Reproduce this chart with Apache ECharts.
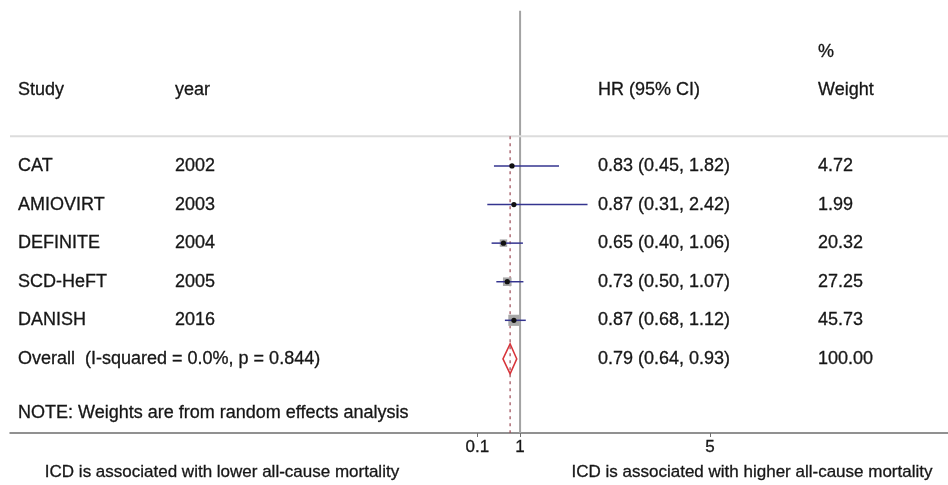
<!DOCTYPE html>
<html><head><meta charset="utf-8">
<script src="https://cdn.jsdelivr.net/npm/echarts@6/dist/echarts.min.js"></script>
<style>html,body{margin:0;padding:0;background:#fff}#c{width:948px;height:485px}</style>
</head><body><div id="c"></div>
<script>
// ---- data ----
const studies = ['CAT', 'AMIOVIRT', 'DEFINITE', 'SCD-HeFT', 'DANISH'];
const years = ['2002', '2003', '2004', '2005', '2016'];
const hr = [0.83, 0.87, 0.65, 0.73, 0.87];
const lower = [0.45, 0.31, 0.40, 0.50, 0.68];
const upper = [1.82, 2.42, 1.06, 1.07, 1.12];
const weights = [4.72, 1.99, 20.32, 27.25, 45.73];
const overallName = 'Overall  (I-squared = 0.0%, p = 0.844)';
const overall = [0.79, 0.64, 0.93];
const overallWeight = 100.00;
const xTicks = [0.1, 1, 5];
const noteText = 'NOTE: Weights are from random effects analysis';
const leftLabel = 'ICD is associated with lower all-cause mortality';
const rightLabel = 'ICD is associated with higher all-cause mortality';

// ---- layout ----
const FONT = '"Liberation Sans", Arial, Helvetica, sans-serif';
const FS = 18;
const FSB = 17;
const TXT = '#161616';
const studyRows = [0, 1, 2, 3, 4];
const overallRow = 5;
const headerRow = -1.97, pctRow = -2.95, noteRow = 6.4, sepRow = -0.77;
const colStudy = 18, colYear = 175, colHR = 598, colW = 818;

const fmt = v => v.toFixed(2);
const cells = [];
cells.push({x: colW, row: pctRow, text: '%'});
cells.push({x: colStudy, row: headerRow, text: 'Study'});
cells.push({x: colYear, row: headerRow, text: 'year'});
cells.push({x: colHR, row: headerRow, text: 'HR (95% CI)'});
cells.push({x: colW, row: headerRow, text: 'Weight'});
studies.forEach((s, i) => {
  cells.push({x: colStudy, row: studyRows[i], text: s});
  cells.push({x: colYear, row: studyRows[i], text: years[i]});
  cells.push({x: colHR, row: studyRows[i], text: fmt(hr[i]) + ' (' + fmt(lower[i]) + ', ' + fmt(upper[i]) + ')'});
  cells.push({x: colW, row: studyRows[i], text: fmt(weights[i])});
});
cells.push({x: colStudy, row: overallRow, text: overallName});
cells.push({x: colHR, row: overallRow, text: fmt(overall[0]) + ' (' + fmt(overall[1]) + ', ' + fmt(overall[2]) + ')'});
cells.push({x: colW, row: overallRow, text: fmt(overallWeight)});
cells.push({x: colStudy, row: noteRow, text: noteText});

const chart = echarts.init(document.getElementById('c'));
chart.setOption({
  animation: false,
  backgroundColor: '#fff',
  grid: {left: 10, right: 0, top: 0, bottom: 52},
  xAxis: {
    type: 'value', min: -9.74, max: 10.01,
    splitLine: {show: false},
    axisLine: {show: true, onZero: false, lineStyle: {color: '#6e6e6e', width: 1.5}},
    axisTick: {show: true, customValues: xTicks, length: 4, lineStyle: {color: '#6e6e6e'}},
    axisLabel: {customValues: xTicks, formatter: v => String(v), color: TXT, fontSize: FSB, fontFamily: FONT, margin: 6,
      textBorderColor: TXT, textBorderWidth: 0.3}
  },
  yAxis: {type: 'value', inverse: true, min: -4.3, max: 6.92, show: false},
  graphic: [
    {type: 'text', x: 222, y: 472, style: {text: leftLabel, fill: TXT, stroke: TXT, lineWidth: 0.3, font: FSB + 'px ' + FONT, textAlign: 'center', textVerticalAlign: 'middle'}},
    {type: 'text', x: 752, y: 472, style: {text: rightLabel, fill: TXT, stroke: TXT, lineWidth: 0.3, font: FSB + 'px ' + FONT, textAlign: 'center', textVerticalAlign: 'middle'}}
  ],
  series: [
    { // reference lines: null line, separator
      type: 'custom', z: 1, silent: true,
      data: [[1, -4.02, 6.92], [0, sepRow, sepRow]],
      encode: {x: 0, y: [1, 2]},
      renderItem(params, api) {
        const cs = params.coordSys;
        if (params.dataIndex === 1) {
          const y = api.coord([0, api.value(1)])[1];
          return {type: 'line', shape: {x1: cs.x, y1: y, x2: cs.x + cs.width, y2: y}, style: {stroke: '#dcdcdc', lineWidth: 2}};
        }
        const p1 = api.coord([api.value(0), api.value(1)]);
        const p2 = api.coord([api.value(0), api.value(2)]);
        return {type: 'line', shape: {x1: p1[0], y1: p1[1], x2: p2[0], y2: p2[1]}, style: {stroke: '#a3a3a3', lineWidth: 2}};
      }
    },
    { // overall diamond
      type: 'custom', z: 2, silent: true,
      data: [[overall[0], overall[1], overall[2], overallRow]],
      encode: {x: [0, 1, 2], y: 3},
      renderItem(params, api) {
        const y = api.coord([0, api.value(3)])[1];
        const xc = api.coord([api.value(0), 0])[0];
        const xl = api.coord([api.value(1), 0])[0];
        const xh = api.coord([api.value(2), 0])[0];
        const h = 15;
        return {type: 'polygon', shape: {points: [[xl, y], [xc, y - h], [xh, y], [xc, y + h]]},
          style: {fill: '#fff', stroke: '#d8343a', lineWidth: 1.5}};
      }
    },
    { // overall dashed line
      type: 'custom', z: 3, silent: true,
      data: [[overall[0], sepRow, 6.92]],
      encode: {x: 0, y: [1, 2]},
      renderItem(params, api) {
        const p1 = api.coord([api.value(0), api.value(1)]);
        const p2 = api.coord([api.value(0), api.value(2)]);
        return {type: 'line', shape: {x1: p1[0], y1: p1[1], x2: p2[0], y2: p2[1]},
          style: {stroke: '#9c4a55', lineWidth: 1.2, lineDash: [3, 4]}};
      }
    },
    { // study estimates
      type: 'custom', z: 4, silent: true,
      data: studies.map((s, i) => [hr[i], lower[i], upper[i], studyRows[i], weights[i]]),
      encode: {x: [0, 1, 2], y: 3},
      renderItem(params, api) {
        const y = api.coord([0, api.value(3)])[1];
        const xc = api.coord([api.value(0), 0])[0];
        const xl = api.coord([api.value(1), 0])[0];
        const xh = api.coord([api.value(2), 0])[0];
        const s = 1.65 * Math.sqrt(api.value(4));
        return {type: 'group', children: [
          {type: 'rect', shape: {x: xc - s / 2, y: y - s / 2, width: s, height: s}, style: {fill: '#a8a8a8'}},
          {type: 'line', shape: {x1: xl, y1: y, x2: xh, y2: y}, style: {stroke: '#34348f', lineWidth: 1.5}},
          {type: 'circle', shape: {cx: xc, cy: y, r: 2.6}, style: {fill: '#111'}}
        ]};
      }
    },
    { // table text
      type: 'custom', z: 5, silent: true,
      data: cells.map(c => [0, c.row]),
      encode: {x: 0, y: 1},
      renderItem(params, api) {
        const c = cells[params.dataIndex];
        const y = api.coord([0, api.value(1)])[1];
        return {type: 'text', x: c.x, y: y,
          style: {text: c.text, fill: TXT, stroke: TXT, lineWidth: 0.3, font: FS + 'px ' + FONT, textAlign: 'left', textVerticalAlign: 'middle'}};
      }
    }
  ]
});
</script></body></html>
